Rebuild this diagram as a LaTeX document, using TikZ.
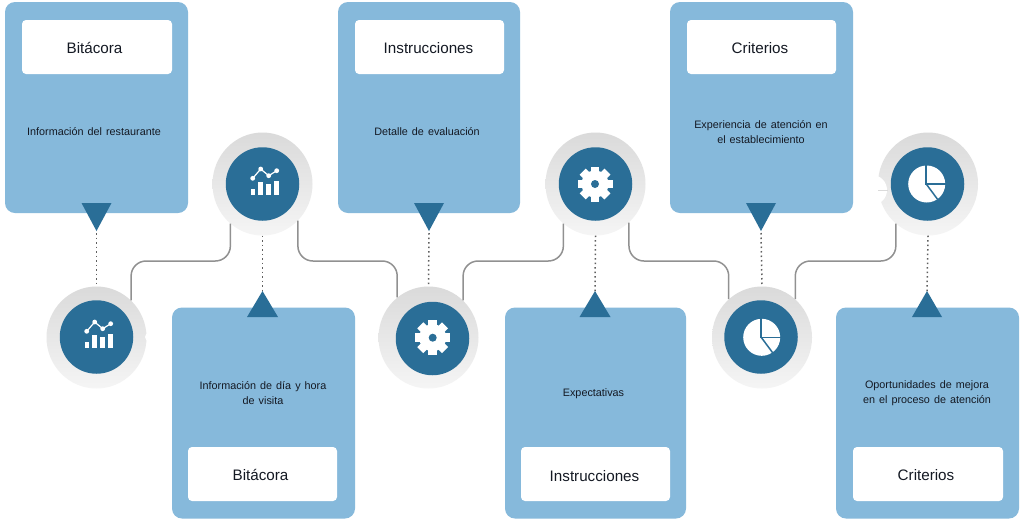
\documentclass[tikz,border=0pt]{standalone}
\usepackage{fontspec}
\usetikzlibrary{shapes.geometric}
\setmainfont[WordSpace=1.35]{Liberation Sans}
\definecolor{boxblue}{RGB}{134,185,219}
\definecolor{deepblue}{RGB}{42,110,151}
\definecolor{ringa}{RGB}{218,218,218}
\definecolor{ringb}{RGB}{245,245,245}
\definecolor{wire}{RGB}{145,145,145}
\definecolor{dots}{RGB}{95,95,95}
\definecolor{ink}{RGB}{20,25,35}
\tikzset{
  panel/.style={fill=boxblue,rounded corners=10pt,minimum width=#1,minimum height=211pt,inner sep=0pt},
  label box/.style={fill=white,rounded corners=4pt,minimum width=150pt,minimum height=54pt,inner sep=0pt},
  title/.style={text=ink,inner sep=0pt,font=\fontsize{15.2pt}{18pt}\selectfont},
  desc/.style={text=ink,align=center,inner sep=0pt,font=\fontsize{10.8pt}{15.5pt}\selectfont},
  ring/.style={ellipse,minimum width=100pt,minimum height=#1,inner sep=0pt,left color=ringa,right color=ringb,shading angle=0},
  core/.style={circle,minimum size=73.5pt,inner sep=0pt,fill=deepblue},
  wireline/.style={draw=wire,line width=1.5pt,rounded corners=15pt},
  dotline/.style={draw=dots,line width=1.5pt,dash pattern=on 1.5pt off 3pt},
  pointer/.style={fill=deepblue},
  chartpic/.pic={
    \fill[white] (-11.8,11) rectangle (-7.5,5);
    \fill[white] (-4.2,11) rectangle (0.5,-2.3);
    \fill[white] (3.5,11) rectangle (8.2,0);
    \fill[white] (11.5,11) rectangle (16.2,-3.3);
    \draw[white,line width=1.2pt] (-9.8,-5.7) -- (-1.8,-15) -- (6.2,-8.3) -- (14.2,-13.3);
    \foreach \p in {(-9.8,-5.7),(-1.8,-15),(6.2,-8.3),(14.2,-13.3)} \fill[white] \p circle (2.4pt);
  },
  gearpic/.pic={
    \fill[white] (0,0) circle (13.5pt);
    \foreach \a in {0,45,...,315} \draw[white,line width=8.5pt] (0,0) -- (\a:17.5pt);
    \fill[deepblue] (0,0) circle (4pt);
  },
  piepic/.pic={
    \fill[white] (0,0) circle (18.5pt);
    \draw[deepblue,line width=1.5pt] (-0.5,-19) -- (-0.5,0) -- (19,0);
    \draw[deepblue,line width=1.5pt] (-0.5,0) -- (11,15.5);
  }
}
\begin{document}
\begin{tikzpicture}[x=1pt,y=-1pt]
\useasboundingbox[fill=white] (0,0) rectangle (1024,523);
% panels
\node[panel=183pt] (p1) at (96.5,107.5) {};
\node[panel=182pt] (p3) at (429,107.5) {};
\node[panel=183pt] (p5) at (761.5,107.5) {};
\node[panel=183pt] (p2) at (263.5,413) {};
\node[panel=181pt] (p4) at (595.5,413) {};
\node[panel=183pt] (p6) at (927.5,413) {};
% label boxes
\node[label box] (l1) at (97,47) {};
\node[label box,minimum width=149pt] (l3) at (429.5,47) {};
\node[label box,minimum width=149pt] (l5) at (761.5,47) {};
\node[label box,minimum width=149pt] (l2) at (262.5,474) {};
\node[label box,minimum width=149pt] (l4) at (595.5,474) {};
\node[label box] (l6) at (928,474) {};
\node[title] (n1) at (94.5,48) {Bitácora};
\node[title] (n3) at (428.5,48) {Instrucciones};
\node[title] (n5) at (760,48) {Criterios};
\node[title] (n2) at (260.5,475) {Bitácora};
\node[title] (n4) at (594.5,476) {Instrucciones};
\node[title] (n6) at (926,475) {Criterios};
% descriptions
\node[desc] (d1) at (94,132) {Información del restaurante};
\node[desc] (d3) at (427,132) {Detalle de evaluación};
\node[desc] (d5) at (761,132) {Experiencia de atención en\\el establecimiento};
\node[desc] (d2) at (263,393) {Información de día y hora\\de visita};
\node[desc] (d4) at (593.5,394) {Expectativas};
\node[desc] (d6) at (927,393) {Oportunidades de mejora\\en el proceso de atención};
% rings
\node[ring=102pt] (c1) at (96.5,337.5) {};
\node[ring=103pt] (c2) at (262.5,184) {};
\node[ring=102pt] (c3) at (428.5,337.5) {};
\node[ring=103pt] (c4) at (595.5,184) {};
\node[ring=102pt] (c5) at (762,337.5) {};
\node[ring=103pt] (c6) at (928,184) {};
% small nicks in the rings
\fill[white] (149,337) circle (4pt);
\fill[white] (872,190) circle (15pt);
\draw[ringa,line width=1pt] (878,190) -- (888,190);
% pointers
\coordinate (t1) at (96.5,231);
\coordinate (t3) at (429,231);
\coordinate (t5) at (761,231);
\coordinate (t2) at (262.5,291);
\coordinate (t4) at (595,291);
\coordinate (t6) at (927,291);
\fill[pointer] (t1) -- ++(-15,-28) -- ++(30,0) -- cycle;
\fill[pointer] (t3) -- ++(-15,-28) -- ++(30,0) -- cycle;
\fill[pointer] (t5) -- ++(-15,-28) -- ++(30,0) -- cycle;
\fill[pointer] (t2) -- ++(-15.5,26) -- ++(31,0) -- cycle;
\fill[pointer] (t4) -- ++(-15.5,26) -- ++(31,0) -- cycle;
\fill[pointer] (t6) -- ++(-15,26) -- ++(30,0) -- cycle;
% dotted links
\draw[dotline] (t1) ++(0,2) -- (c1.north);
\draw[dotline] (c2.south) -- (t2);
\draw[dotline] (t3) ++(0,2) -- (c3.north);
\draw[dotline] (c4.south) -- (t4);
\draw[dotline] (t5) ++(0,2) -- (c5.north);
\draw[dotline] (c6.south) -- (t6);
% wires
\coordinate (m1) at (180,261);
\coordinate (m2) at (347,261);
\coordinate (m3) at (512,261);
\coordinate (m4) at (678,261);
\coordinate (m5) at (845,261);
\draw[wireline] (c1.47) |- (m1) -| (c2.231);
\draw[wireline] (c2.-46) |- (m2) -| (c3.128);
\draw[wireline] (c3.47) |- (m3) -| (c4.231);
\draw[wireline] (c4.-49) |- (m4) -| (c5.131);
\draw[wireline] (c5.49) |- (m5) -| (c6.231);
% cores
\node[core] (k1) at (96.5,337) {};
\node[core] (k2) at (262.5,184) {};
\node[core] (k3) at (432.5,338.5) {};
\node[core] (k4) at (595.5,184) {};
\node[core] (k5) at (761,337) {};
\node[core] (k6) at (927.5,184) {};
% icons
\pic at (k1) {chartpic};
\pic at (k2) {chartpic};
\pic at (432.7,337.7) {gearpic};
\pic at (595,184) {gearpic};
\pic at (761.7,337.3) {piepic};
\pic at (926.7,184) {piepic};
\end{tikzpicture}
\end{document}
